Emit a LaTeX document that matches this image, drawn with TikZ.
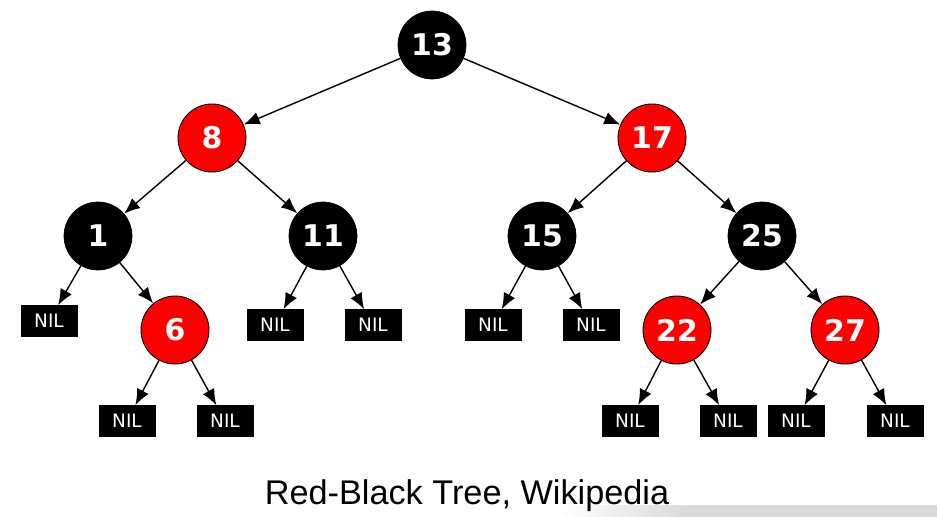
\documentclass[tikz,border=0pt]{standalone}
\usepackage{fontspec}
\setmainfont{DejaVu Sans}
\newfontfamily\captionfont{Liberation Sans}
\usetikzlibrary{arrows.meta}
\tikzstyle{blacknode} = [circle, draw=black, fill=black, text=white,
	minimum size=1.36cm, inner sep=0pt, font=\bfseries\fontsize{17}{17}\selectfont]
\tikzstyle{rednode} = [blacknode, fill=red, line width=0.5pt]
\tikzstyle{nil} = [draw=black, fill=black, text=white,
	minimum width=1.12cm, minimum height=0.62cm, inner sep=0pt,
	font=\fontsize{10.5}{10.5}\selectfont]
\tikzstyle{arrow} = [-{Latex[length=3.2mm, width=2.6mm]}, line width=0.8pt]
\begin{document}
\begin{tikzpicture}[x=0.02cm, y=-0.02cm]
	\useasboundingbox (0,0) rectangle (937,517);
	\shade[left color=white, right color=black!15] (560,505) rectangle (690,517);
	\fill[black!15] (690,505) rectangle (937,517);

	\node (n13) [blacknode] at (432,45) {13};
	\node (n8) [rednode] at (212,138) {8};
	\node (n17) [rednode] at (652,138) {17};
	\draw [arrow] (n13) -- (n8);
	\draw [arrow] (n13) -- (n17);

	\node (n1) [blacknode] at (98,236) {1};
	\node (n11) [blacknode] at (323,236) {11};
	\node (n15) [blacknode] at (542,236) {15};
	\node (n25) [blacknode] at (762,236) {25};
	\draw [arrow] (n8) -- (n1);
	\draw [arrow] (n8) -- (n11);
	\draw [arrow] (n17) -- (n15);
	\draw [arrow] (n17) -- (n25);

	\node (nil1) [nil] at (49,321) {NIL};
	\node (n6) [rednode] at (175,330) {6};
	\draw [arrow] (n1) -- (nil1);
	\draw [arrow] (n1) -- (n6);

	\node (nil2) [nil] at (275,325) {NIL};
	\node (nil3) [nil] at (373,325) {NIL};
	\draw [arrow] (n11) -- (nil2);
	\draw [arrow] (n11) -- (nil3);

	\node (nil4) [nil] at (493,325) {NIL};
	\node (nil5) [nil] at (591,325) {NIL};
	\draw [arrow] (n15) -- (nil4);
	\draw [arrow] (n15) -- (nil5);

	\node (n22) [rednode] at (677,330) {22};
	\node (n27) [rednode] at (845,330) {27};
	\draw [arrow] (n25) -- (n22);
	\draw [arrow] (n25) -- (n27);

	\node (nil6) [nil] at (127,421) {NIL};
	\node (nil7) [nil] at (225,421) {NIL};
	\draw [arrow] (n6) -- (nil6);
	\draw [arrow] (n6) -- (nil7);

	\node (nil8) [nil] at (630,421) {NIL};
	\node (nil9) [nil] at (728,421) {NIL};
	\draw [arrow] (n22) -- (nil8);
	\draw [arrow] (n22) -- (nil9);

	\node (nil10) [nil] at (796,421) {NIL};
	\node (nil11) [nil] at (895,421) {NIL};
	\draw [arrow] (n27) -- (nil10);
	\draw [arrow] (n27) -- (nil11);

	% caption
	\node (cap) at (467,496) {\captionfont\fontsize{19.5}{19.5}\selectfont Red-Black Tree, Wikipedia};
\end{tikzpicture}
\end{document}
